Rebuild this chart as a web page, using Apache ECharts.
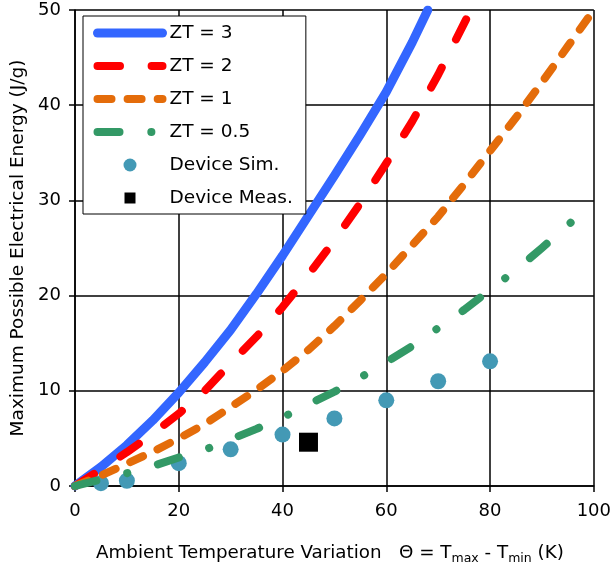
<!DOCTYPE html>
<html>
<head>
<meta charset="utf-8">
<script src="https://cdn.jsdelivr.net/npm/echarts@6/dist/echarts.min.js"></script>
<style>
html,body{margin:0;padding:0;background:#fff;}
#chart{width:614px;height:577px;}
</style>
</head>
<body>
<div id="chart"></div>
<script>
// ---- data ----
const seriesNames = ['ZT = 3', 'ZT = 2', 'ZT = 1', 'ZT = 0.5', 'Device Sim.', 'Device Meas.'];

const zt3Theta = [0, 5, 10, 15, 20, 25, 30, 35, 40, 45, 50, 55, 60, 65, 68];
const zt3Energy = [0, 2.0, 4.3, 6.9, 9.8, 13.0, 16.4, 20.2, 24.2, 28.4, 32.6, 36.9, 41.4, 46.6, 50];

const zt2Theta = [0, 5, 10, 15, 20, 25, 30, 35, 40, 45, 50, 55, 60, 65, 70, 75, 76.3];
const zt2Energy = [0, 1.75, 3.55, 5.5, 7.6, 10.0, 12.9, 15.7, 18.8, 22.2, 25.8, 29.7, 33.9, 38.3, 43.2, 48.6, 50];

const zt1Theta = [0, 5, 10, 15, 20, 25, 30, 35, 40, 45, 50, 55, 60, 65, 70, 75, 80, 85, 90, 95, 100];
const zt1Energy = [0, 1.1, 2.35, 3.6, 5.0, 6.5, 8.3, 10.1, 12.1, 14.3, 16.8, 19.5, 22.3, 25.3, 28.3, 31.7, 35.2, 38.7, 42.4, 46.2, 50];

const zt05Theta = [0, 5, 10, 15, 20, 25, 30, 35, 40, 45, 50, 55, 60, 65, 70, 75, 80, 85, 90, 95, 100];
const zt05Energy = [0, 0.7, 1.35, 2.1, 3.0, 3.8, 4.9, 6.0, 7.2, 8.6, 9.9, 11.4, 13.0, 14.7, 16.6, 18.5, 20.6, 22.7, 25.0, 27.4, 29.8];

const simTheta = [5, 10, 20, 30, 40, 50, 60, 70, 80];
const simEnergy = [0.3, 0.55, 2.4, 3.85, 5.4, 7.1, 9.0, 11.0, 13.1];

const measTheta = [45];
const measEnergy = [4.6];

const xTicks = [0, 20, 40, 60, 80, 100];
const yTicks = [0, 10, 20, 30, 40, 50];

// ---- build ----
const FONT = 'DejaVu Sans';
const pairs = (xs, ys) => xs.map((x, i) => [x, ys[i]]);

const chart = echarts.init(document.getElementById('chart'), null, {renderer: 'canvas'});

const lineSeries = (name, xs, ys, color, width, dash) => ({
  name, type: 'line', data: pairs(xs, ys), symbol: 'none', smooth: false,
  lineStyle: {color, width, type: dash, cap: 'round', join: 'round'},
  itemStyle: {color}, clip: true, animation: false
});

const option = {
  animation: false,
  backgroundColor: '#fff',
  grid: {left: 75, right: 17, top: 10, bottom: 91, containLabel: false},
  xAxis: {
    type: 'value', min: xTicks[0], max: xTicks[xTicks.length - 1], interval: 20,
    name: '{a|Ambient Temperature Variation   Θ = T}{s|max}{a| - T}{s|min}{a| (K)}',
    nameLocation: 'middle', nameGap: 55,
    nameTextStyle: {
      fontFamily: FONT, fontSize: 18.3, color: '#000', padding: [0, 9, 0, 0],
      rich: {
        a: {fontFamily: FONT, fontSize: 18.3, color: '#000', lineHeight: 24},
        s: {fontFamily: FONT, fontSize: 12.5, color: '#000', lineHeight: 13, verticalAlign: 'bottom'}
      }
    },
    axisLine: {show: true, lineStyle: {color: '#000', width: 1.5}},
    axisTick: {show: true, length: 6, lineStyle: {color: '#000', width: 1.5}},
    axisLabel: {fontFamily: FONT, fontSize: 18, color: '#000', margin: 16,
      formatter: v => xTicks.includes(v) ? String(v) : ''},
    splitLine: {show: true, lineStyle: {color: '#000', width: 1.5}}
  },
  yAxis: {
    type: 'value', min: yTicks[0], max: yTicks[yTicks.length - 1], interval: 10,
    name: 'Maximum Possible Electrical Energy (J/g)',
    nameLocation: 'middle', nameGap: 47, nameRotate: 90,
    nameTextStyle: {fontFamily: FONT, fontSize: 18.5, color: '#000'},
    axisLine: {show: true, lineStyle: {color: '#000', width: 1.5}},
    axisTick: {show: true, length: 6, lineStyle: {color: '#000', width: 1.5}},
    axisLabel: {fontFamily: FONT, fontSize: 18, color: '#000', margin: 14,
      formatter: v => yTicks.includes(v) ? String(v) : ''},
    splitLine: {show: true, lineStyle: {color: '#000', width: 1.5}}
  },
  legend: {
    orient: 'vertical', left: 83, top: 16,
    padding: [7, 13, 6, 10],
    itemWidth: 65, itemHeight: 13, itemGap: 13,
    backgroundColor: '#fff', borderColor: '#000', borderWidth: 1, borderRadius: 0,
    selectedMode: false,
    textStyle: {fontFamily: FONT, fontSize: 18.5, color: '#000', lineHeight: 20, padding: [0, 0, 0, 2]},
    lineStyle: {width: 'inherit', type: 'inherit', cap: 'inherit'},
    data: [
      {name: seriesNames[0], itemStyle: {opacity: 0}},
      {name: seriesNames[1], itemStyle: {opacity: 0}},
      {name: seriesNames[2], itemStyle: {opacity: 0}},
      {name: seriesNames[3], itemStyle: {opacity: 0}},
      {name: seriesNames[4]},
      {name: seriesNames[5], icon: 'path://M0,0L10,0L10,10L0,10Z',
        itemStyle: {color: '#000', borderColor: '#fff', borderWidth: 2}}
    ]
  },
  series: [
    lineSeries(seriesNames[0], zt3Theta, zt3Energy, '#3366FF', 9, 'solid'),
    lineSeries(seriesNames[1], zt2Theta, zt2Energy, '#FF0000', 8, [22.5, 31.6]),
    lineSeries(seriesNames[2], zt1Theta, zt1Energy, '#E46C0A', 8, [14, 16.1]),
    lineSeries(seriesNames[3], zt05Theta, zt05Energy, '#339966', 8, [22, 31.8, 0.1, 31.8]),
    {
      name: seriesNames[4], type: 'scatter', data: pairs(simTheta, simEnergy),
      symbol: 'circle', symbolSize: 16, itemStyle: {color: '#4399B5', opacity: 1}
    },
    {
      name: seriesNames[5], type: 'scatter', data: pairs(measTheta, measEnergy),
      symbol: 'rect', symbolSize: 19, itemStyle: {color: '#000', opacity: 1}
    }
  ]
};
chart.setOption(option);
</script>
</body>
</html>
